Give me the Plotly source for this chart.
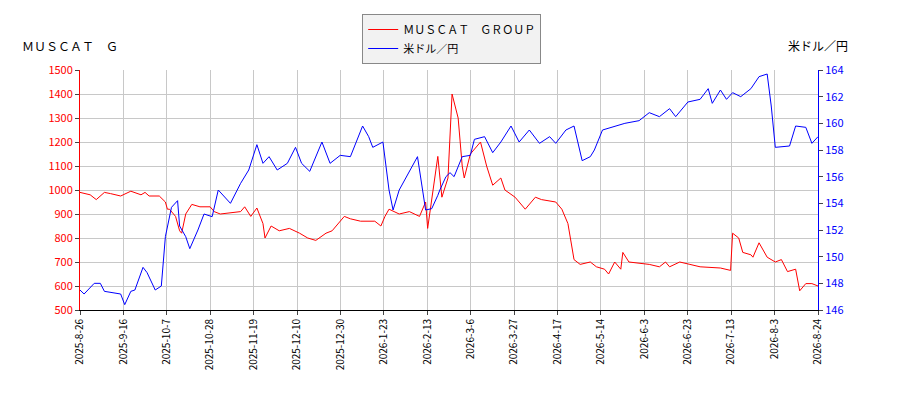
import plotly.graph_objects as go

# x positions are measured in days along an evenly spaced trading-day axis (0 = 2025-8-26, 363 = 2026-8-24)

# MUSCAT GROUP share price
stock_days = [0, 5, 8, 12, 15, 20, 25, 30, 32, 34, 39, 42, 43, 44, 47, 49, 50, 52, 55, 59, 64, 66, 69, 79, 81,
              84, 87, 90, 91, 94,
              98, 103, 108, 112, 116, 121, 124, 128, 130, 133, 138, 145, 148, 150, 152, 157, 162, 167, 170,
              171, 175, 176, 178, 181, 183, 186, 188, 189, 192, 197, 200, 203, 207, 209, 214, 219, 224, 227,
              234, 237, 240, 241, 243, 246, 251, 254, 258, 260, 263, 266, 267, 270, 280, 285, 288, 290, 295,
              300, 305, 315, 320, 321, 324, 326, 330, 331, 334, 338, 342, 345, 348, 352, 354, 357, 360, 363]
stock_vals = [990, 980, 960, 990, 985, 975, 995, 980, 990, 975, 975, 950, 920, 920, 890, 830, 820, 900, 940,
              930, 930, 910, 900, 910, 930,
              890, 925, 860, 800, 850, 830, 840, 820, 800, 790, 820, 830, 870, 890, 880, 870, 870, 850, 890,
              920, 900, 910, 890, 950, 840, 1080, 1140, 970, 1050, 1400, 1300, 1100, 1050, 1150, 1200, 1100,
              1020, 1050, 1000, 970, 920, 970, 960, 950, 920, 860, 810, 710, 690, 700, 680, 670, 650, 700,
              670, 740, 700, 690, 680, 700, 680, 700, 690, 680, 675, 665, 820, 800, 740, 730, 720, 780, 720,
              700, 710, 660, 670, 580, 610, 610, 600]

# USD/JPY
fx_days = [0, 2, 7, 10, 12, 20, 22, 25, 27, 31, 33, 37, 40, 42, 45, 48, 49, 52, 54, 58, 61, 65, 68, 71, 74,
           79, 83, 87, 90, 93, 97, 102, 106, 109, 113, 119, 123, 128, 133, 139, 142, 144, 149, 152, 154, 157,
           164, 166, 170, 173, 176, 177, 180, 182, 184, 188, 192, 194, 199, 203, 207, 212, 216, 221, 226, 231,
           234, 239, 243, 247, 251, 253, 257, 263, 268, 275, 280, 285, 290, 293, 299, 305, 309, 311, 315, 318,
           321, 325, 330, 334, 338, 340, 342, 349, 352, 357, 360, 363]
fx_vals = [147.5, 147.2, 148.0, 148.0, 147.4, 147.2, 146.4, 147.4, 147.5, 149.2, 148.8, 147.5, 147.8, 151.5,
           153.7, 154.2, 152.3, 151.5, 150.6, 152.0, 153.2, 153.0, 155.0, 154.5, 154.0, 155.5, 156.5, 158.4,
           157.0, 157.5, 156.5, 157.0, 158.2, 157.0, 156.4, 158.6, 157.0, 157.6, 157.5, 159.8, 159.0, 158.2,
           158.6, 155.0, 153.5, 155.0, 157.0, 157.5, 153.5, 153.6, 154.6, 155.0, 156.0, 156.3, 156.0, 157.5,
           157.6, 158.8, 159.0, 157.8, 158.6, 159.8, 158.6, 159.5, 158.5, 159.0, 158.5, 159.5, 159.8, 157.2,
           157.5, 158.0, 159.5, 159.8, 160.0, 160.2, 160.8, 160.5, 161.1, 160.5, 161.6, 161.8, 162.6, 161.5,
           162.5, 161.8, 162.3, 162.0, 162.6, 163.5, 163.7, 161.3, 158.2, 158.3, 159.8, 159.7, 158.5, 159.0]

tick_labels = ["2025-8-26", "2025-9-16", "2025-10-7", "2025-10-28", "2025-11-19", "2025-12-10",
               "2025-12-30", "2026-1-23", "2026-2-13", "2026-3-6", "2026-3-27", "2026-4-17",
               "2026-5-14", "2026-6-3", "2026-6-23", "2026-7-13", "2026-8-3", "2026-8-24"]
tick_pos = [363 * i / (len(tick_labels) - 1) for i in range(len(tick_labels))]

font = dict(family="Noto Sans CJK JP, DejaVu Sans", size=11, color="#000")

fig = go.Figure()
fig.add_trace(go.Scatter(x=stock_days, y=stock_vals, mode="lines",
                         line=dict(color="red", width=1), name="ＭＵＳＣＡＴ　ＧＲＯＵＰ"))
fig.add_trace(go.Scatter(x=fx_days, y=fx_vals, mode="lines",
                         line=dict(color="blue", width=1), name="米ドル／円", yaxis="y2"))

fig.update_layout(
    width=900, height=400, font=font,
    paper_bgcolor="white", plot_bgcolor="white",
    margin=dict(l=72, r=90, t=62, b=98, autoexpand=False),
    showlegend=True,
    legend=dict(x=0.493, y=0.985, xref="container", yref="container", xanchor="center", yanchor="top",
                bgcolor="#f2f2f2", bordercolor="#888", borderwidth=1, font=dict(size=11),
                tracegroupgap=0),
    xaxis=dict(range=[0, 363], tickvals=tick_pos, ticktext=tick_labels,
               tickangle=-90, showgrid=True, gridcolor="#c8c8c8", showline=True,
               linecolor="#000", ticks="outside", ticklen=4, tickfont=dict(size=10),
               zeroline=False),
    yaxis=dict(range=[500, 1500], dtick=100, showgrid=True, gridcolor="#c8c8c8",
               showline=True, linecolor="red", ticks="outside", ticklen=4,
               tickfont=dict(color="red", size=11), zeroline=False),
    yaxis2=dict(range=[146, 164], dtick=2, overlaying="y", side="right", showgrid=False,
                showline=True, linecolor="blue", ticks="outside", ticklen=4,
                tickfont=dict(color="blue", size=11), zeroline=False),
    annotations=[
        dict(text="ＭＵＳＣＡＴ　Ｇ", x=-0.081, y=1.104, xref="paper", yref="paper", showarrow=False,
             xanchor="left", yanchor="middle", font=dict(size=12)),
        dict(text="米ドル／円", x=1.043, y=1.104, xref="paper", yref="paper", showarrow=False,
             xanchor="right", yanchor="middle", font=dict(size=12)),
    ],
)

fig.write_html("out.html")
